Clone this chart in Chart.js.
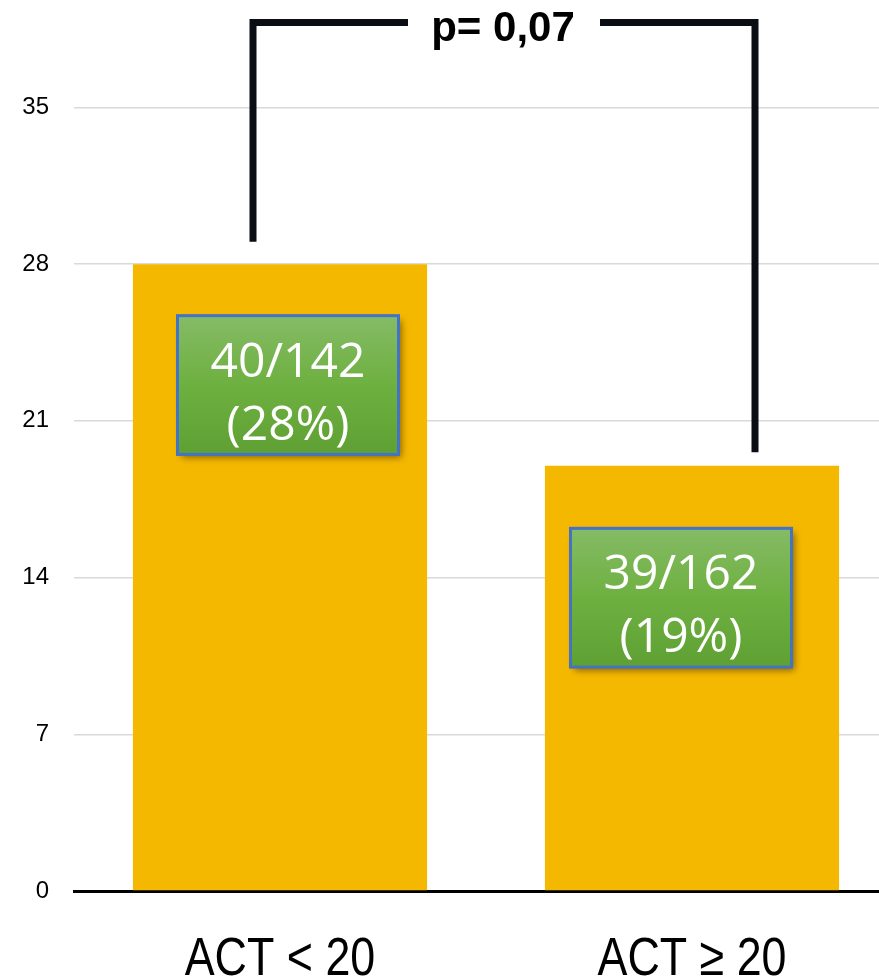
<!DOCTYPE html>
<html>
<head>
<meta charset="utf-8">
<script src="https://cdn.jsdelivr.net/npm/chart.js@4"></script>
<style>
  html, body { margin: 0; padding: 0; background: #fff; overflow: hidden; }
  #wrap { width: 879px; height: 977px; overflow: hidden; }
  canvas { display: block; }
</style>
</head>
<body>
<div id="wrap"><canvas id="chart" width="898" height="977"></canvas></div>
<script>
// data
const categories = ['ACT < 20', 'ACT \u2265 20'];
const percentValues = [28, 19];
const countLabels = ['40/142', '39/162'];
const percentLabels = ['(28%)', '(19%)'];
const yTicks = [0, 7, 14, 21, 28, 35];
const pValueText = 'p= 0,07';

// green label boxes (value range on y, pixel offset from bar centre on x)
const boxes = [
  { top: 25.7, bottom: 19.5, dx: 8 },
  { top: 16.2, bottom: 10.0, dx: -11 }
];

// significance bracket
const bracket = { top: 38.8, leftEnd: 29.0, rightEnd: 19.6, leftDx: -27, rightDx: 63 };

const annotations = {
  id: 'annotations',
  afterDatasetsDraw(chart) {
    const ctx = chart.ctx;
    const x = chart.scales.x, y = chart.scales.y;

    // category labels, condensed like a narrow font
    ctx.save();
    ctx.fillStyle = '#000';
    ctx.font = '54px "Liberation Sans", Arial, sans-serif';
    ctx.textAlign = 'center';
    ctx.textBaseline = 'alphabetic';
    categories.forEach((c, i) => {
      const cx = x.getPixelForValue(i);
      ctx.save();
      ctx.translate(cx, 975);
      ctx.scale(0.83, 1);
      ctx.fillText(c, 0, 0);
      ctx.restore();
    });
    ctx.restore();

    // label boxes
    boxes.forEach((b, i) => {
      const cx = x.getPixelForValue(i) + b.dx;
      const w = 221;
      const top = y.getPixelForValue(b.top);
      const bot = y.getPixelForValue(b.bottom);
      const left = cx - w / 2;
      ctx.save();
      ctx.shadowColor = 'rgba(0,0,0,0.45)';
      ctx.shadowBlur = 7;
      ctx.shadowOffsetX = 3;
      ctx.shadowOffsetY = 4;
      const g = ctx.createLinearGradient(0, top, 0, bot);
      g.addColorStop(0, '#85bb66');
      g.addColorStop(0.5, '#6eb040');
      g.addColorStop(1, '#5ea033');
      ctx.fillStyle = g;
      ctx.fillRect(left, top, w, bot - top);
      ctx.restore();
      ctx.save();
      ctx.strokeStyle = '#4472c4';
      ctx.lineWidth = 3;
      ctx.strokeRect(left, top, w, bot - top);
      ctx.fillStyle = '#fff';
      ctx.font = '48px "Open Sans", "Noto Sans", sans-serif';
      ctx.textAlign = 'center';
      ctx.textBaseline = 'middle';
      const mid = (top + bot) / 2;
      ctx.fillText(countLabels[i], cx, mid - 22);
      ctx.fillText(percentLabels[i], cx, mid + 41);
      ctx.restore();
    });

    // bracket
    const lx = x.getPixelForValue(0) + bracket.leftDx;
    const rx = x.getPixelForValue(1) + bracket.rightDx;
    const ty = y.getPixelForValue(bracket.top);
    ctx.save();
    ctx.strokeStyle = '#0a0d14';
    ctx.lineWidth = 7;
    ctx.lineCap = 'butt';
    ctx.lineJoin = 'miter';
    ctx.beginPath();
    ctx.moveTo(lx, y.getPixelForValue(bracket.leftEnd));
    ctx.lineTo(lx, ty);
    ctx.lineTo(408, ty);
    ctx.moveTo(600, ty);
    ctx.lineTo(rx, ty);
    ctx.lineTo(rx, y.getPixelForValue(bracket.rightEnd));
    ctx.stroke();
    ctx.font = 'bold 42px "Liberation Sans", Arial, sans-serif';
    ctx.fillStyle = '#000';
    ctx.textAlign = 'center';
    ctx.textBaseline = 'middle';
    ctx.fillText(pValueText, 503, ty + 7);
    ctx.restore();
  }
};

new Chart(document.getElementById('chart'), {
  type: 'bar',
  data: {
    labels: categories,
    datasets: [{
      data: percentValues,
      backgroundColor: '#f5b800',
      borderWidth: 0,
      categoryPercentage: 1,
      barPercentage: 0.714
    }]
  },
  options: {
    responsive: false,
    animation: false,
    devicePixelRatio: 1,
    layout: { padding: 0 },
    plugins: { legend: { display: false }, tooltip: { enabled: false } },
    scales: {
      x: {
        grid: { display: false, drawTicks: false },
        border: { display: true, color: '#000', width: 3 },
        ticks: { display: false },
        afterFit(s) { s.height = 86; s.paddingLeft = 0; s.paddingRight = 0; }
      },
      y: {
        min: 0,
        max: 39.8,
        grid: { color: '#d9d9d9', lineWidth: 1.5, drawTicks: false },
        border: { display: false },
        afterBuildTicks(s) { s.ticks = yTicks.map(v => ({ value: v })); },
        ticks: {
          color: '#000',
          padding: 25,
          font: { family: '"Liberation Sans", Arial, sans-serif', size: 24 }
        },
        afterFit(s) { s.width = 74; s.paddingTop = 0; s.paddingBottom = 0; }
      }
    }
  },
  plugins: [annotations]
});
</script>
</body>
</html>
